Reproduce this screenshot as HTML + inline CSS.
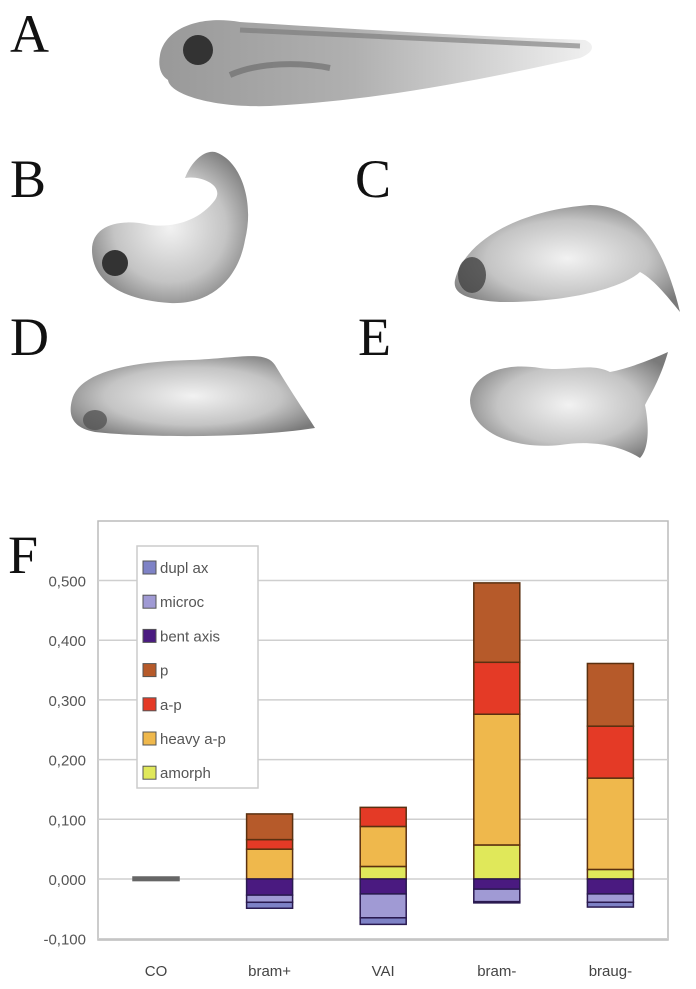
<!DOCTYPE html>
<html><head><meta charset="utf-8"><style>
html,body{margin:0;padding:0;background:#fff;}
svg{display:block;font-family:"Liberation Sans",sans-serif;}
.lt{font-family:"Liberation Serif",serif;font-size:54px;fill:#111;}
</style></head><body>
<svg id="fig" width="696" height="989" viewBox="0 0 696 989">
<defs>
<radialGradient id="gb" cx="50%" cy="50%" r="60%"><stop offset="0" stop-color="#f2f2f2"/><stop offset="0.6" stop-color="#c4c4c4"/><stop offset="1" stop-color="#7a7a7a"/></radialGradient>
<linearGradient id="ga" x1="0" x2="1"><stop offset="0" stop-color="#999"/><stop offset="0.45" stop-color="#b0b0b0"/><stop offset="1" stop-color="#f0f0f0"/></linearGradient>
</defs>
<g>
<text class="lt" x="10" y="52">A</text>
<path d="M160,55 C165,28 200,15 240,22 C340,28 460,36 585,40 C595,44 595,52 580,58 C480,80 380,100 270,106 C215,108 170,95 168,80 C160,75 158,65 160,55Z" fill="url(#ga)"/>
<path d="M240,30 C340,34 460,40 580,46" stroke="#777" stroke-width="5" fill="none" opacity="0.6"/>
<path d="M230,75 C260,62 300,62 330,68" stroke="#666" stroke-width="6" fill="none" opacity="0.6"/>
<circle cx="198" cy="50" r="15" fill="#333"/>
</g>
<g>
<text class="lt" x="10" y="197">B</text>
<path d="M92,250 C92,225 120,218 150,225 C175,228 200,220 215,200 C225,185 200,175 185,178 C192,160 205,150 215,152 C240,160 255,200 245,240 C238,280 210,305 170,303 C120,300 92,280 92,250Z" fill="url(#gb)"/>
<circle cx="115" cy="263" r="13" fill="#333"/>
</g>
<g>
<text class="lt" x="355" y="197">C</text>
<path d="M455,280 C465,240 520,210 590,205 C640,205 665,250 680,312 C670,300 655,280 640,272 C620,290 560,303 500,302 C470,300 452,295 455,280Z" fill="url(#gb)"/>
<ellipse cx="472" cy="275" rx="14" ry="18" fill="#444" opacity="0.8"/>
</g>
<g>
<text class="lt" x="10" y="355">D</text>
<path d="M72,400 C78,375 120,362 190,360 C240,358 265,350 275,365 C290,390 305,412 315,428 C250,438 150,438 95,432 C72,428 68,415 72,400Z" fill="url(#gb)"/>
<ellipse cx="95" cy="420" rx="12" ry="10" fill="#555" opacity="0.8"/>
</g>
<g>
<text class="lt" x="358" y="355">E</text>
<path d="M470,400 C472,375 500,362 540,368 C570,372 590,362 610,372 C630,368 650,360 668,352 C660,380 650,395 645,405 C650,430 648,450 640,458 C620,445 590,440 560,445 C510,450 470,430 470,400Z" fill="url(#gb)"/>
</g>
<text class="lt" x="8" y="573">F</text>
<g id="chart"></g>
</svg>
<script>
const categories=["CO","bram+","VAI","bram-","braug-"];
const seriesNames=["dupl ax","microc","bent axis","p","a-p","heavy a-p","amorph"];
const amorph=[0,0,0.021,0.057,0.016];
const heavyAP=[0,0.050,0.067,0.219,0.153];
const aP=[0,0.016,0.032,0.087,0.087];
const pVals=[0,0.043,0,0.133,0.105];
const bentAxis=[0.006,0.027,0.025,0.017,0.025];
const microc=[0,0.012,0.040,0.021,0.014];
const duplAx=[0,0.010,0.011,0.002,0.008];
const yTicks=[-0.1,0,0.1,0.2,0.3,0.4,0.5];
const yTickLabels=["-0,100","0,000","0,100","0,200","0,300","0,400","0,500"];
const colors={"dupl ax":"#7e82c6","microc":"#a09ad4","bent axis":"#4a1a80","p":"#b65a2a","a-p":"#e43a26","heavy a-p":"#efb84c","amorph":"#e0e85a"};
const NS="http://www.w3.org/2000/svg";
const g=document.getElementById('chart');
const L=98,R=668,T=521,B=940;
const S=597;
const y=v=>879-v*S;
const x=i=>156+i*113.6;
function mk(t,a){const e=document.createElementNS(NS,t);for(const k in a)e.setAttribute(k,a[k]);g.appendChild(e);return e;}
let e=mk('rect',{x:L,y:T,width:R-L,height:B-T,fill:'#fff',stroke:'#bbb','stroke-width':1.5});

yTicks.forEach((t,i)=>{
 let l=mk('line',{x1:L,x2:R,y1:y(t),y2:y(t),stroke:'#cfcfcf','stroke-width':1.5});
 
 let tx=mk('text',{x:86,y:y(t)+6,'text-anchor':'end','font-size':15,fill:'#555'});tx.textContent=yTickLabels[i];
 
});
let lg=mk('rect',{x:137,y:546,width:121,height:242,fill:'#fff',stroke:'#ccc','stroke-width':1.5});

seriesNames.forEach((n,i)=>{
 const yy=568+i*34.2;
 let s=mk('rect',{x:143,y:yy-7,width:13,height:13,fill:colors[n],stroke:'#555','stroke-width':1});
 
 let t=mk('text',{x:160,y:yy+5,'font-size':15,fill:'#555'});t.textContent=n;
 
});
const bw=46;
categories.forEach((c,i)=>{
 let base=0;
 [["amorph",amorph],["heavy a-p",heavyAP],["a-p",aP],["p",pVals]].forEach(([n,arr])=>{
  const v=arr[i];if(v<=0)return;
  let r=mk('rect',{x:x(i)-bw/2,y:y(base+v),width:bw,height:v*S,fill:colors[n],stroke:'#5a3010','stroke-width':1.5});
  
  base+=v;
 });
 let nb=0;
 [["bent axis",bentAxis],["microc",microc],["dupl ax",duplAx]].forEach(([n,arr])=>{
  const v=arr[i];if(v<=0)return;
  let col=(i===0)?'#666':colors[n];
  let r=mk('rect',{x:x(i)-bw/2,y:y(nb)-(i===0?2:0),width:bw,height:v*S,fill:col,stroke:i===0?'#666':'#2a1a50','stroke-width':1.5});
  
  nb-=v;
 });
 let tx=mk('text',{x:x(i),y:976,'text-anchor':'middle','font-size':15,fill:'#444'});tx.textContent=c;
 
});
</script>
</body></html>
